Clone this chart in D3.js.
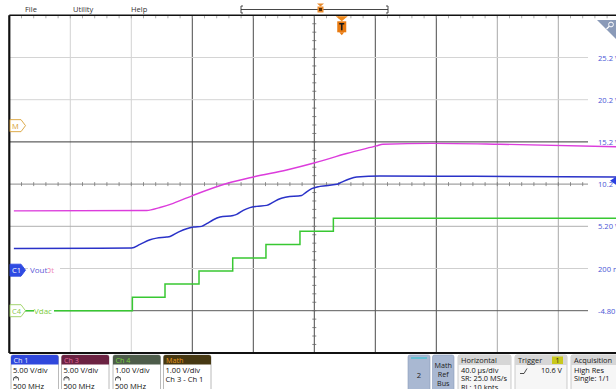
<!DOCTYPE html>
<html>
<head>
<meta charset="utf-8">
<script src="https://cdn.jsdelivr.net/npm/d3@7"></script>
<style>
  html, body { margin: 0; padding: 0; background: #fff; }
  svg { display: block; font-family: "Open Sans", "Noto Sans", sans-serif; }
</style>
</head>
<body>
<svg id="scope" width="616" height="389"></svg>
<script>
// ---- acquisition data (time in µs from left edge of screen, volts per channel) ----
const timeSpanUs = 400;               // 10 divisions × 40 µs/div

// Ch1 – Vout (5 V/div)
const vout = [
  [3, 2.58], [80.2, 2.62], [85.7, 3.06], [92.3, 3.61], [96.6, 3.80], [103.2, 3.92],
  [105.4, 4.00], [110.8, 4.51], [116.3, 4.92], [120.7, 5.11], [126.1, 5.19],
  [129.4, 5.51], [133.8, 5.98], [138.2, 6.29], [146.9, 6.49], [149.1, 6.61],
  [153.4, 7.09], [157.8, 7.41], [162.2, 7.56], [168.8, 7.68], [173.1, 8.07],
  [177.5, 8.47], [181.9, 8.66], [191.7, 8.86], [193.9, 9.14], [198.3, 9.66],
  [203.7, 9.93], [214.7, 10.17], [218.0, 10.44], [223.4, 10.84], [227.8, 11.03],
  [243.1, 11.15], [280, 11.13], [330, 11.10], [398, 11.05]
];

// Ch4 – Vdac (1 V/div), DAC staircase
const vdac = [
  [3, 0.0], [80.7, 0.32], [102.1, 0.63], [124.4, 0.94], [146.5, 1.25],
  [168.3, 1.57], [190.6, 1.88], [212.5, 2.19], [398, 2.19]
];

// Math – Ch3 − Ch1 (1 V/div)
const mathTrace = [
  [3, -2.02], [90.1, -2.01], [98.8, -1.94], [107.5, -1.84], [120.6, -1.65],
  [142.5, -1.37], [160.6, -1.21], [181.9, -1.05], [200.4, -0.88], [221.2, -0.66],
  [240.7, -0.48], [245.0, -0.44], [277.2, -0.42], [321.8, -0.44], [398, -0.50]
];

// Ch1 graticule readout on the right edge
const ch1TickValues = [25.2, 20.2, 15.2, 10.2, 5.2, 0.2, -4.8];
const ch1TickLabels = ["25.2 V", "20.2 V", "15.2 V", "10.2 V", "5.20 V", "200 mV", "-4.80 V"];

const triggerLevel = 10.6;            // V on Ch1
const triggerTimeUs = 218;            // trigger point on screen

const menuItems = ["File", "Utility", "Help"];

const channelBadges = [
  { name: "Ch 1", scale: "5.00 V/div", extra: "500 MHz", head: "#3048dc", text: "#e8ecff" },
  { name: "Ch 3", scale: "5.00 V/div", extra: "500 MHz", head: "#6b2242", text: "#e06a9a" },
  { name: "Ch 4", scale: "1.00 V/div", extra: "500 MHz", head: "#4d5c4a", text: "#7ad040" },
  { name: "Math", scale: "1.00 V/div", extra: "Ch 3 - Ch 1", head: "#463812", text: "#e8961c" }
];

const horizontalInfo = ["40.0 µs/div", "SR: 25.0 MS/s", "RL: 10 kpts"];
const acquisitionInfo = ["High Res", "Single: 1/1"];

// ---- layout ----
const svg = d3.select("#scope");
const plotL = 9.3, plotT = 15.3, divW = 61, divH = 42.2;
const plotR = plotL + 10 * divW, plotB = plotT + 8 * divH;
const gridEnd = 588;

const x = d3.scaleLinear().domain([0, timeSpanUs]).range([plotL, plotR]);
const yDiv = d3.scaleLinear().domain([0, 8]).range([plotT, plotB]);

// per-channel vertical scale: ground position (div from top) and V/div
function chanScale(groundDiv, voltsPerDiv) {
  return d3.scaleLinear()
    .domain([0, voltsPerDiv])
    .range([yDiv(groundDiv), yDiv(groundDiv - 1)]);
}
const yCh1 = chanScale(6.04, 5);
const yCh4 = chanScale(7.0, 1);
const yMath = chanScale(2.615, 1);

const plot = svg.append("g");

// ---- graticule ----
const darkV = new Set([3, 4, 5, 6, 7]);
for (let i = 1; i < 10; i++) {
  plot.append("line")
    .attr("x1", plotL + i * divW).attr("x2", plotL + i * divW)
    .attr("y1", plotT).attr("y2", plotB)
    .attr("stroke", darkV.has(i) ? "#4a4a4a" : (i >= 8 ? "#a8a8a8" : "#d2d2d2"))
    .attr("stroke-width", 1);
}
const hStyle = { 1: "#d4d4d4", 2: "#d4d4d4", 3: "#3a3a3a", 4: "#8a8a8a", 5: "#b0b0b0", 6: "#cfcfcf", 7: "#5a5a5a" };
for (let j = 1; j < 8; j++) {
  plot.append("line")
    .attr("x1", plotL).attr("x2", gridEnd)
    .attr("y1", yDiv(j)).attr("y2", yDiv(j))
    .attr("stroke", hStyle[j]).attr("stroke-width", 1);
}
// minor ticks on centre axes and top edge
const minorX = d3.range(1, 50).map(k => plotL + k * divW / 5);
plot.selectAll(".mtx").data(minorX.filter(v => v < gridEnd)).join("line")
  .attr("x1", d => d).attr("x2", d => d)
  .attr("y1", yDiv(4) - 2).attr("y2", yDiv(4) + 2)
  .attr("stroke", "#777").attr("stroke-width", 0.8);
plot.selectAll(".mtt").data(minorX).join("line")
  .attr("x1", d => d).attr("x2", d => d)
  .attr("y1", plotT).attr("y2", plotT + 3)
  .attr("stroke", "#999").attr("stroke-width", 0.8);
const minorY = d3.range(1, 40).map(k => plotT + k * divH / 5);
plot.selectAll(".mty").data(minorY).join("line")
  .attr("x1", plotL + 5 * divW - 2).attr("x2", plotL + 5 * divW + 2)
  .attr("y1", d => d).attr("y2", d => d)
  .attr("stroke", "#666").attr("stroke-width", 0.8);

// frame
plot.append("line").attr("x1", plotL).attr("x2", 616).attr("y1", plotT).attr("y2", plotT)
  .attr("stroke", "#111").attr("stroke-width", 1.6);
plot.append("line").attr("x1", plotL).attr("x2", 616).attr("y1", plotB).attr("y2", plotB)
  .attr("stroke", "#111").attr("stroke-width", 2);
plot.append("line").attr("x1", plotL).attr("x2", plotL).attr("y1", plotT).attr("y2", plotB)
  .attr("stroke", "#111").attr("stroke-width", 2.2);

// ---- right-hand Ch1 scale labels ----
svg.append("g").selectAll("text").data(ch1TickValues).join("text")
  .attr("x", 598).attr("y", d => yCh1(d) + 3)
  .attr("font-size", 7.6).attr("fill", "#4a56d6")
  .text((d, i) => ch1TickLabels[i]);

// ---- traces ----
const line = (yScale, curve) => d3.line()
  .x(d => x(d[0])).y(d => yScale(d[1])).curve(curve);

plot.append("path").datum(vdac)
  .attr("d", line(yCh4, d3.curveStepAfter))
  .attr("fill", "none").attr("stroke", "#38c832").attr("stroke-width", 1.5);
plot.append("path").datum(mathTrace)
  .attr("d", line(yMath, d3.curveMonotoneX))
  .attr("fill", "none").attr("stroke", "#dc3cdc").attr("stroke-width", 1.4);
plot.append("path").datum(vout)
  .attr("d", line(yCh1, d3.curveMonotoneX))
  .attr("fill", "none").attr("stroke", "#2a32c8").attr("stroke-width", 1.5);

// trigger level arrow on right edge
const tl = yCh1(triggerLevel);
svg.append("path")
  .attr("d", `M610,${tl} L616,${tl - 4} L616,${tl + 4} Z`)
  .attr("fill", "#2a40e0");

// trigger position marker below the top edge
const tx = x(triggerTimeUs);
const trig = svg.append("g");
trig.append("path").attr("d", `M${tx - 6},${plotT + 1} L${tx + 6},${plotT + 1} L${tx},${plotT + 6} Z`).attr("fill", "#f08a1c");
trig.append("rect").attr("x", tx - 4.5).attr("y", plotT + 6).attr("width", 9).attr("height", 11).attr("fill", "#e87a10");
trig.append("path").attr("d", `M${tx - 2.5},${plotT + 17} L${tx + 2.5},${plotT + 17} L${tx},${plotT + 20} Z`).attr("fill", "#e87a10");
trig.append("path").attr("d", `M${tx - 2.5},${plotT + 8.5} L${tx + 2.5},${plotT + 8.5} M${tx},${plotT + 8.5} L${tx},${plotT + 15}`)
  .attr("stroke", "#1a1a1a").attr("stroke-width", 1.6);

// zoom tab in the upper-right corner
svg.append("path").attr("d", "M597,20 L616,20 L616,39 Z").attr("fill", "#8a9ab8");
svg.append("circle").attr("cx", 611).attr("cy", 24.5).attr("r", 2.4).attr("fill", "none").attr("stroke", "#fff").attr("stroke-width", 1);
svg.append("line").attr("x1", 609.3).attr("y1", 26.3).attr("x2", 606.5).attr("y2", 29).attr("stroke", "#fff").attr("stroke-width", 1.2);

// ---- channel markers on left ----
function marker(yc, fill, stroke, label, labelColor) {
  const g = svg.append("g");
  g.append("path")
    .attr("d", `M10,${yc - 6} L21,${yc - 6} L25.5,${yc} L21,${yc + 6} L10,${yc + 6} Z`)
    .attr("fill", fill).attr("stroke", stroke).attr("stroke-width", 0.9);
  g.append("text").attr("x", 12).attr("y", yc + 3)
    .attr("font-size", 7.5).attr("fill", labelColor).text(label);
  return g;
}
marker(yMath(0), "#fff", "#d9a238", "M", "#d9a238");
marker(yCh1(0), "#2f4be2", "#2f4be2", "C1", "#ffffff");
marker(yCh4(0), "#fff", "#9ad060", "C4", "#8ac850");

// trace name tags
const vy = yCh1(0);
svg.append("rect").attr("x", 28).attr("y", vy - 6).attr("width", 32).attr("height", 11).attr("fill", "#fff");
const vt = svg.append("text").attr("x", 30).attr("y", vy + 3).attr("font-size", 8);
vt.append("tspan").attr("fill", "#5b5bd8").text("Vout");
vt.append("tspan").attr("fill", "#ee8cb8").text("ɔt");
const dy = yCh4(0);
svg.append("rect").attr("x", 34).attr("y", dy - 5).attr("width", 20).attr("height", 10).attr("fill", "#fff");
svg.append("text").attr("x", 34).attr("y", dy + 3).attr("font-size", 8).attr("fill", "#7ccc3c").text("Vdac");

// ---- top menu & timeline ----
const menuX = [25, 73, 131];
svg.append("g").selectAll("text").data(menuItems).join("text")
  .attr("x", (d, i) => menuX[i]).attr("y", 12)
  .attr("font-size", 7.5).attr("fill", "#333").text(d => d);

svg.append("line").attr("x1", 241).attr("x2", 388).attr("y1", 9.5).attr("y2", 9.5)
  .attr("stroke", "#333").attr("stroke-width", 0.9);
svg.append("path").attr("d", "M243,6 L241,6 L241,13 L243,13").attr("fill", "none").attr("stroke", "#333").attr("stroke-width", 0.9);
svg.append("path").attr("d", "M386,6 L388,6 L388,13 L386,13").attr("fill", "none").attr("stroke", "#333").attr("stroke-width", 0.9);
svg.append("path").attr("d", "M317,3.5 L324,3.5 L320.5,6.5 Z").attr("fill", "#e8892a");
svg.append("rect").attr("x", 317.5).attr("y", 6.5).attr("width", 6).attr("height", 6).attr("fill", "#e8892a");
svg.append("rect").attr("x", 319).attr("y", 8).attr("width", 3).attr("height", 3).attr("fill", "#5a3008");

// ---- bottom status bar ----
const bar = svg.append("g");
const badgeX = [11, 61.5, 113, 163.5], badgeW = 47.5;
channelBadges.forEach((b, i) => {
  const g = bar.append("g").attr("transform", `translate(${badgeX[i]},355)`);
  g.append("rect").attr("x", 0).attr("y", 0).attr("width", badgeW).attr("height", 40).attr("rx", 2)
    .attr("fill", "#fff").attr("stroke", "#a8a8a8").attr("stroke-width", 0.8);
  g.append("path").attr("d", `M0,9.5 L0,2 Q0,0 2,0 L${badgeW - 2},0 Q${badgeW},0 ${badgeW},2 L${badgeW},9.5 Z`).attr("fill", b.head);
  g.append("text").attr("x", 2.5).attr("y", 7.8).attr("font-size", 7.2).attr("fill", b.text).text(b.name);
  g.append("text").attr("x", 2).attr("y", 18).attr("font-size", 7.6).attr("fill", "#111").text(b.scale);
  if (b.name === "Math") {
    g.append("text").attr("x", 2).attr("y", 26.5).attr("font-size", 7.6).attr("fill", "#111").text(b.extra);
  } else {
    g.append("path").attr("d", "M2.5,25.5 L2.5,23.5 Q5,19.5 7.5,23.5 L7.5,25.5 M2.5,22.8 L7.5,22.8")
      .attr("fill", "none").attr("stroke", "#333").attr("stroke-width", 0.8);
    g.append("text").attr("x", 2).attr("y", 34).attr("font-size", 7.6).attr("fill", "#111").text(b.extra);
  }
});

// "2" and Math/Ref/Bus buttons
bar.append("rect").attr("x", 408).attr("y", 355).attr("width", 22).attr("height", 40).attr("rx", 2).attr("fill", "#a9b8d2").attr("stroke", "#8a9ab8").attr("stroke-width", 0.6);
bar.append("line").attr("x1", 411).attr("x2", 427).attr("y1", 358).attr("y2", 358).attr("stroke", "#38c4d4").attr("stroke-width", 1.2);
bar.append("text").attr("x", 419).attr("y", 377.5).attr("text-anchor", "middle").attr("font-size", 7.6).attr("fill", "#222").text("2");
bar.append("rect").attr("x", 432.5).attr("y", 355).attr("width", 21.5).attr("height", 40).attr("rx", 2).attr("fill", "#a9b8d2").attr("stroke", "#8a9ab8").attr("stroke-width", 0.6);
["Math", "Ref", "Bus"].forEach((t, i) => {
  bar.append("text").attr("x", 443.3).attr("y", 367.5 + i * 9).attr("text-anchor", "middle")
    .attr("font-size", 7.2).attr("fill", "#222").text(t);
});

// info panels
function infoPanel(x0, w, title, lines) {
  const g = bar.append("g").attr("transform", `translate(${x0},355)`);
  g.append("rect").attr("width", w).attr("height", 40).attr("rx", 2).attr("fill", "#f6f6f6").attr("stroke", "#b8b8b8").attr("stroke-width", 0.7);
  g.append("path").attr("d", `M0,10 L0,2 Q0,0 2,0 L${w - 2},0 Q${w},0 ${w},2 L${w},10 Z`).attr("fill", "#d6d6d6");
  g.append("text").attr("x", 3).attr("y", 8).attr("font-size", 7.4).attr("fill", "#222").text(title);
  lines.forEach((t, i) => g.append("text").attr("x", 3).attr("y", 17.5 + i * 8.6).attr("font-size", 7.4).attr("fill", "#111").text(t));
  return g;
}
infoPanel(458, 53, "Horizontal", horizontalInfo);
const trg = infoPanel(515, 52, "Trigger", []);
trg.append("rect").attr("x", 37).attr("y", 1.5).attr("width", 11).attr("height", 7.5).attr("fill", "#c9c81c");
trg.append("text").attr("x", 42.5).attr("y", 8).attr("text-anchor", "middle").attr("font-size", 7).attr("fill", "#222").text("1");
trg.append("path").attr("d", "M5,18.5 L9,18.5 L12,13.5").attr("fill", "none").attr("stroke", "#222").attr("stroke-width", 0.8);
trg.append("text").attr("x", 26).attr("y", 17.5).attr("font-size", 7.4).attr("fill", "#111").text(triggerLevel.toFixed(1) + " V");
infoPanel(571, 50, "Acquisition", acquisitionInfo);
</script>
</body>
</html>
